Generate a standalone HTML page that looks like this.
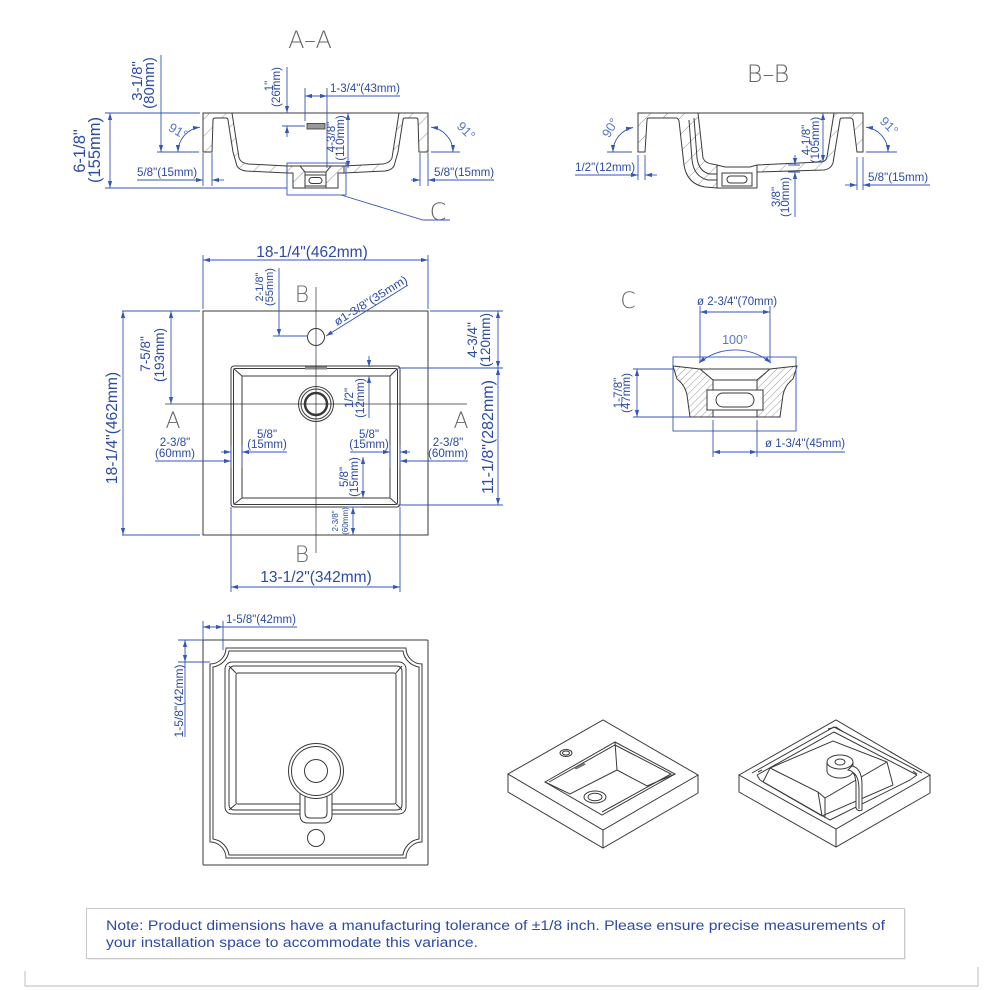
<!DOCTYPE html>
<html><head><meta charset="utf-8"><style>
html,body{margin:0;padding:0;background:#fff}
svg{display:block}
text{font-family:"Liberation Sans",Arial,sans-serif}
.b{stroke:#3556b8;stroke-width:0.9;fill:none}
.t{fill:#2c4aa6}
.k{stroke:#3a3a3a;stroke-width:1;fill:none}
.g{fill:#666;font-family:"DejaVu Sans","Liberation Sans",sans-serif;font-weight:200}
</style></head><body>
<svg xmlns="http://www.w3.org/2000/svg" width="990" height="990" viewBox="0 0 990 990">
<defs>
<marker id="a" viewBox="0 0 10 6" refX="10" refY="3" markerWidth="7" markerHeight="4.2" markerUnits="userSpaceOnUse" orient="auto-start-reverse"><path d="M0,0L10,3L0,6z" fill="#3556b8"/></marker>
<pattern id="h" width="12" height="12" patternUnits="userSpaceOnUse" patternTransform="rotate(45)"><line x1="0" y1="0" x2="0" y2="12" stroke="#444" stroke-width="0.6"/></pattern>
<pattern id="h2" width="5" height="5" patternUnits="userSpaceOnUse" patternTransform="rotate(45)"><line x1="0" y1="0" x2="0" y2="5" stroke="#444" stroke-width="0.55"/></pattern>
</defs>
<rect width="990" height="990" fill="#fff"/>

<!-- ================= A-A ================= -->
<text x="310" y="48" class="g" font-size="24" text-anchor="middle">A–A</text>
<g class="k">
<path d="M203,113H428"/>
<path fill="url(#h)" d="M203,113H232L239,158Q241,163 248,164L287,166V173L246,171Q239,170 237,166L233,152L228,120Q228,118 226,118H215Q213,118 213,120L212,152H203Z"/>
<path fill="url(#h)" d="M428,113H399L392,158Q390,163 383,164L344,166V173L385,171Q392,170 394,166L398,152L403,120Q403,118 405,118H416Q418,118 418,120L419,152H428Z"/>
<path fill="url(#h)" d="M287,166H300L305,172V188H293V173H287Z"/>
<path fill="url(#h)" d="M344,166H331L326,172V188H338V173H344Z"/>
<path d="M300,166H331M305,172H326M293,188H338"/>
<rect x="305" y="175" width="21" height="11"/>
<rect x="309" y="177.5" width="13" height="6" rx="3"/>
</g>
<rect x="307" y="123.5" width="18" height="5.5" fill="#999" stroke="#333" stroke-width="0.8"/>
<g class="b">
<path d="M161,55V152" marker-end="url(#a)"/>
<path d="M157,152H199"/>
<path d="M105,113H200"/>
<path d="M110,113V188" marker-start="url(#a)" marker-end="url(#a)"/>
<path d="M105,188H287"/>
<path d="M137,180H203" marker-end="url(#a)"/>
<path d="M224,180H212" marker-end="url(#a)"/>
<path d="M203,153V186M212,153V186"/>
<path d="M200,127.2A25,25 0 0 0 178,152" marker-start="url(#a)" marker-end="url(#a)"/>
<path d="M431,127.2A25,25 0 0 1 453,152" marker-start="url(#a)" marker-end="url(#a)"/>
<path d="M431,152H460"/>
<path d="M411,180H420" marker-end="url(#a)"/>
<path d="M494,180H428" marker-end="url(#a)"/>
<path d="M420,153V186M428,153V186"/>
<path d="M287,67V113" marker-end="url(#a)"/>
<path d="M287,137V126" marker-end="url(#a)"/>
<path d="M282,126H305"/>
<path d="M305,88V121M327,88V168"/>
<path d="M305,96H327" marker-start="url(#a)" marker-end="url(#a)"/>
<path d="M327,96H400"/>
<path d="M348,113V168" marker-start="url(#a)" marker-end="url(#a)"/>
<rect x="287" y="163" width="59" height="32"/>
<path d="M341,195L423,220H450"/>
</g>
<g class="t">
<text transform="translate(142,81) rotate(-90)" text-anchor="middle" font-size="15">3-1/8"</text>
<text transform="translate(154,83) rotate(-90)" text-anchor="middle" font-size="15">(80mm)</text>
<text transform="translate(85,151) rotate(-90)" text-anchor="middle" font-size="16.5">6-1/8"</text>
<text transform="translate(100,150) rotate(-90)" text-anchor="middle" font-size="16.5">(155mm)</text>
<text x="137" y="176" font-size="11.6">5/8"(15mm)</text>
<text x="434" y="176" font-size="11.6">5/8"(15mm)</text>
<text transform="translate(273,86) rotate(-90)" text-anchor="middle" font-size="11.6">1"</text>
<text transform="translate(280,87) rotate(-90)" text-anchor="middle" font-size="11.6">(26mm)</text>
<text x="330" y="92" font-size="11.5">1-3/4"(43mm)</text>
<text transform="translate(335,137) rotate(-90)" text-anchor="middle" font-size="11.6">4-3/8"</text>
<text transform="translate(344,138) rotate(-90)" text-anchor="middle" font-size="11.6">(110mm)</text>
<text transform="translate(176,135) rotate(30)" text-anchor="middle" font-size="13" fill="#5a78c8">91°</text>
<text transform="translate(463,134) rotate(45)" text-anchor="middle" font-size="13" fill="#5a78c8">91°</text>
</g>
<text x="438" y="220" class="g" font-size="24" text-anchor="middle">C</text>

<!-- ================= B-B ================= -->
<text x="768" y="82" class="g" font-size="24" text-anchor="middle">B–B</text>
<g class="k">
<path d="M638,113H863"/>
<path fill="url(#h)" d="M638,113H698L703,158Q705,163 712,164L717,165V188L705,187Q687,184 684,165L679,121Q678,118 676,118H649Q647,118 647,120L645,152H638Z"/>
<path d="M689,120L692,160Q694,177 708,180L717,180M694,118L697,158Q699,172 710,174L717,174"/>
<path d="M717,165L725,167H750L757,165M717,188H757M717,165V188M757,165V188"/>
<rect x="722" y="173" width="30" height="13"/>
<rect x="727" y="176" width="20" height="7" rx="3.5"/>
<path fill="url(#h)" d="M757,165L820,162Q826,162 827,157L834,113H863V152H857L853,120Q852,118 850,118H842Q840,118 840,120L833,163Q831,169 824,170L757,172Z"/>
</g>
<g class="b">
<path d="M633,127.5A25,25 0 0 0 613,152" marker-start="url(#a)" marker-end="url(#a)"/>
<path d="M607,152H632"/>
<path d="M575,175H638" marker-end="url(#a)"/>
<path d="M657,175H645" marker-end="url(#a)"/>
<path d="M638,155V180M645,155V180"/>
<path d="M866,127.2A25,25 0 0 1 888,152" marker-start="url(#a)" marker-end="url(#a)"/>
<path d="M866,152H897"/>
<path d="M845,185H857" marker-end="url(#a)"/>
<path d="M930,185H863" marker-end="url(#a)"/>
<path d="M857,157V190M863,157V190"/>
<path d="M823,113V162" marker-start="url(#a)" marker-end="url(#a)"/>
<path d="M795,155V165" marker-end="url(#a)"/>
<path d="M795,217V172" marker-end="url(#a)"/>
<path d="M788,165H800M788,172H800"/>
</g>
<g class="t">
<text transform="translate(614,130) rotate(-60)" text-anchor="middle" font-size="13" fill="#5a78c8">90°</text>
<text x="575" y="171" font-size="11.6">1/2"(12mm)</text>
<text transform="translate(886,129) rotate(45)" text-anchor="middle" font-size="13" fill="#5a78c8">91°</text>
<text x="868" y="181" font-size="11.6">5/8"(15mm)</text>
<text transform="translate(810,140) rotate(-90)" text-anchor="middle" font-size="11.6">4-1/8"</text>
<text transform="translate(819,140) rotate(-90)" text-anchor="middle" font-size="11.6">(105mm)</text>
<text transform="translate(780,197) rotate(-90)" text-anchor="middle" font-size="11.6">3/8"</text>
<text transform="translate(789,197) rotate(-90)" text-anchor="middle" font-size="11.6">(10mm)</text>
</g>

<!-- ================= PLAN ================= -->
<g class="k" stroke-width="1.2">
<rect x="203" y="311" width="225" height="224"/>
<rect x="231" y="366" width="169" height="141" rx="3"/>
<rect x="233.5" y="368.5" width="164" height="136" rx="2"/>
<rect x="242" y="376" width="148" height="122"/>
<path d="M233.5,368.5L242,376M397.5,368.5L390,376M233.5,504.5L242,498M397.5,504.5L390,498" stroke-width="1"/>
<circle cx="316" cy="337" r="8.5"/>
<circle cx="316" cy="404" r="17.5"/>
<circle cx="316" cy="404" r="15"/>
<circle cx="316" cy="404" r="11" stroke-width="2.5"/>
</g>
<rect x="305" y="366.5" width="22" height="3" fill="#888"/>
<g stroke="#333" stroke-width="0.7" fill="none">
<path d="M316,287V553M165,404H467"/>
</g>
<text x="302" y="302" class="g" font-size="22" text-anchor="middle">B</text>
<text x="302" y="562" class="g" font-size="22" text-anchor="middle">B</text>
<text x="173" y="428" class="g" font-size="22" text-anchor="middle">A</text>
<text x="461" y="428" class="g" font-size="22" text-anchor="middle">A</text>
<g class="b">
<path d="M203,260H428" marker-start="url(#a)" marker-end="url(#a)"/>
<path d="M203,255V309M428,255V309"/>
<path d="M279,268V336" marker-end="url(#a)"/>
<path d="M273,336H308"/>
<path d="M408,285L326,336" marker-end="url(#a)"/>
<path d="M171,311V404" marker-start="url(#a)" marker-end="url(#a)"/>
<path d="M122,311H200M122,535H200"/>
<path d="M123,311V535" marker-start="url(#a)" marker-end="url(#a)"/>
<path d="M498,311V368" marker-start="url(#a)" marker-end="url(#a)"/>
<path d="M498,368V505" marker-start="url(#a)" marker-end="url(#a)"/>
<path d="M430,311H503M398,368H503M398,505H503"/>
<path d="M369,356V367" marker-end="url(#a)"/>
<path d="M369,418V376" marker-end="url(#a)"/>
<path d="M242,452H287" marker-start="url(#a)"/>
<path d="M221,452H231" marker-end="url(#a)"/>
<path d="M231,445V468M242,445V468"/>
<path d="M350,452H390" marker-end="url(#a)"/>
<path d="M410,452H400" marker-end="url(#a)"/>
<path d="M390,445V468M400,445V468"/>
<path d="M155,461H231" marker-end="url(#a)"/>
<path d="M468,461H400" marker-end="url(#a)"/>
<path d="M363,457V498" marker-start="url(#a)" marker-end="url(#a)"/>
<path d="M353,507V535" marker-start="url(#a)" marker-end="url(#a)"/>
<path d="M345,507H362"/>
<path d="M231,587H400" marker-start="url(#a)" marker-end="url(#a)"/>
<path d="M231,507V592M400,507V592"/>
</g>
<g class="t">
<text x="312" y="257" font-size="15.5" text-anchor="middle">18-1/4"(462mm)</text>
<text transform="translate(263,287) rotate(-90)" text-anchor="middle" font-size="11">2-1/8"</text>
<text transform="translate(273,287) rotate(-90)" text-anchor="middle" font-size="11">(55mm)</text>
<text transform="translate(337,326) rotate(-32)" font-size="11.3" textLength="84" lengthAdjust="spacingAndGlyphs">ø1-3/8"(35mm)</text>
<text transform="translate(150,354) rotate(-90)" text-anchor="middle" font-size="13.5">7-5/8"</text>
<text transform="translate(164,355) rotate(-90)" text-anchor="middle" font-size="13.5">(193mm)</text>
<text transform="translate(117,428) rotate(-90)" text-anchor="middle" font-size="15.6">18-1/4"(462mm)</text>
<text transform="translate(477,340) rotate(-90)" text-anchor="middle" font-size="13.5">4-3/4"</text>
<text transform="translate(490,340) rotate(-90)" text-anchor="middle" font-size="13.5">(120mm)</text>
<text transform="translate(493,437) rotate(-90)" text-anchor="middle" font-size="16">11-1/8"(282mm)</text>
<text transform="translate(353,398) rotate(-90)" text-anchor="middle" font-size="11.5">1/2"</text>
<text transform="translate(364,398) rotate(-90)" text-anchor="middle" font-size="11.5">(12mm)</text>
<text x="267" y="438" font-size="11.5" text-anchor="middle">5/8"</text>
<text x="267" y="448" font-size="11.5" text-anchor="middle">(15mm)</text>
<text x="369" y="438" font-size="11.5" text-anchor="middle">5/8"</text>
<text x="369" y="448" font-size="11.5" text-anchor="middle">(15mm)</text>
<text x="175" y="446" font-size="11.6" text-anchor="middle">2-3/8"</text>
<text x="175" y="457" font-size="11.6" text-anchor="middle">(60mm)</text>
<text x="448" y="446" font-size="11.6" text-anchor="middle">2-3/8"</text>
<text x="448" y="457" font-size="11.6" text-anchor="middle">(60mm)</text>
<text transform="translate(348,477) rotate(-90)" text-anchor="middle" font-size="11.5">5/8"</text>
<text transform="translate(358,477) rotate(-90)" text-anchor="middle" font-size="11.5">(15mm)</text>
<text transform="translate(338,521) rotate(-90)" text-anchor="middle" font-size="8">2-3/8"</text>
<text transform="translate(348,521) rotate(-90)" text-anchor="middle" font-size="8">(60mm)</text>
<text x="316" y="582" font-size="15.5" text-anchor="middle">13-1/2"(342mm)</text>
</g>

<!-- ================= C DETAIL ================= -->
<text x="628" y="308" class="g" font-size="22" text-anchor="middle">C</text>
<g class="k" stroke-width="0.9">
<path fill="url(#h2)" d="M673,366L700,369L713,380V390H707V410H713V417H690L687,395Q685,385 677,379Z"/>
<path fill="url(#h2)" d="M797,366L770,369L757,380V390H763V410H757V417H780L783,395Q785,385 793,379Z"/>
<path d="M700,369H770M713,380H757M690,417H780"/>
<rect x="707" y="390" width="56" height="20"/>
<rect x="716" y="393" width="38" height="14" rx="7"/>
<path d="M713,410V417M757,410V417M713,380V390M757,380V390"/>
</g>
<g class="b">
<rect x="673" y="357" width="123" height="74"/>
<path d="M700,312H770" marker-start="url(#a)" marker-end="url(#a)"/>
<path d="M700,306V362M770,306V362"/>
<path d="M699,363A56,56 0 0 1 771,363" marker-start="url(#a)" marker-end="url(#a)"/>
<path d="M637,369V417" marker-start="url(#a)" marker-end="url(#a)"/>
<path d="M633,369H673M633,417H690"/>
<path d="M713,452H757" marker-start="url(#a)" marker-end="url(#a)"/>
<path d="M757,452H845"/>
<path d="M713,420V457M757,420V457"/>
</g>
<g class="t">
<text x="697" y="305" font-size="11.5">ø 2-3/4"(70mm)</text>
<text x="735" y="344" font-size="12.5" text-anchor="middle" fill="#5a78c8">100°</text>
<text transform="translate(622,393) rotate(-90)" text-anchor="middle" font-size="11.6">1-7/8"</text>
<text transform="translate(630,393) rotate(-90)" text-anchor="middle" font-size="11.6">(47mm)</text>
<text x="765" y="447" font-size="11.5">ø 1-3/4"(45mm)</text>
</g>

<!-- ================= BOTTOM VIEW ================= -->
<g class="k">
<rect x="203" y="640" width="225" height="225" rx="1"/>
<path d="M226,648H406A16,16 0 0 0 422,664V842A16,16 0 0 0 406,858H226A16,16 0 0 0 210,842V664A16,16 0 0 0 226,648Z"/>
<path d="M229,651H403A19,19 0 0 0 419,667V839A19,19 0 0 0 403,855H229A19,19 0 0 0 213,839V667A19,19 0 0 0 229,651Z"/>
<rect x="225" y="662" width="181" height="152" rx="7"/>
<rect x="229" y="666" width="173" height="144" rx="5"/>
<rect x="236" y="673" width="160" height="131" rx="2"/>
<path d="M229,666L236,673M402,666L396,673M229,810L236,804M402,810L396,804"/>
<path fill="#fff" d="M300,790V815Q300,823 308,823H324Q332,823 332,815V790Z"/>
<path d="M305,796V813Q305,818 310,818H322Q327,818 327,813V796"/>
<circle cx="316" cy="771" r="27.5" fill="#fff"/>
<circle cx="316" cy="771" r="24.5"/>
<circle cx="316" cy="771" r="11.5"/>
<circle cx="316" cy="838" r="8.5"/>
</g>
<g class="b">
<path d="M203,627H223" marker-start="url(#a)" marker-end="url(#a)"/>
<path d="M223,627H297"/>
<path d="M203,621V640M223,621V650"/>
<path d="M185,640V662" marker-start="url(#a)" marker-end="url(#a)"/>
<path d="M185,662V737"/>
<path d="M178,640H203M178,662H210"/>
</g>
<g class="t">
<text x="226" y="623" font-size="11.5">1-5/8"(42mm)</text>
<text transform="translate(183,701) rotate(-90)" text-anchor="middle" font-size="12">1-5/8"(42mm)</text>
</g>

<!-- ================= ISO LEFT ================= -->
<g class="k" stroke-width="0.9">
<path d="M508,774L603,720L698,775L603,830Z"/>
<path d="M508,774V792L603,848L698,793V775M603,830V848"/>
<path d="M545,782L615,742L675,774L602,815Z"/>
<path d="M549,782L615,745L671,774L602,812"/>
<path d="M615,742L617,770M545,782L570,794L617,770L647,786L675,774"/>
<ellipse cx="595" cy="797" rx="11" ry="6"/>
<ellipse cx="595" cy="797" rx="7" ry="3.8"/>
<ellipse cx="566" cy="753" rx="6" ry="3.5"/>
<ellipse cx="566" cy="753" rx="3.5" ry="2"/>
</g>
<path d="M574,768L584,763L586,764.5L576,769.5Z" fill="#777"/>

<!-- ================= ISO RIGHT ================= -->
<g class="k" stroke-width="0.9">
<path d="M739,775L836,720L930,775L836,829Z"/>
<path d="M739,775V792L836,847L930,793V775M836,829V847"/>
<path d="M752,773L834,727L922,773"/>
<path d="M757,775L834,732L917,775"/>
<path d="M757,775L760,780L830,820L910,780L917,775"/>
<path d="M763,782L770,768L833,741L887,762L893,785"/>
<path d="M770,768L818,792L825,798L887,762M825,798V818M763,782L822,816L893,785"/>
<path d="M818,792L822,816"/>
<path fill="#fff" d="M827,762V771A13,7 0 0 0 853,771V762Z"/>
<ellipse cx="840" cy="762" rx="13" ry="7" fill="#fff"/>
<ellipse cx="840" cy="762" rx="5" ry="3"/>
<path fill="#fff" d="M848,770Q856,771 856,785V808Q858,812 862,810V785Q862,768 852,766Z"/>
<path d="M852,772Q859,775 859,790V809"/>
<path d="M758,772L762,770M913,771L917,774M828,729L836,727L842,731"/>
</g>

<!-- ================= NOTE ================= -->
<rect x="88" y="910" width="818" height="50" fill="#eee"/>
<rect x="86.5" y="908.5" width="818" height="50" fill="#fff" stroke="#c9c9c9"/>
<g class="t" font-size="13.5">
<text x="106" y="930" textLength="779" lengthAdjust="spacingAndGlyphs">Note: Product dimensions have a manufacturing tolerance of ±1/8 inch. Please ensure precise measurements of</text>
<text x="106" y="947" textLength="372" lengthAdjust="spacingAndGlyphs">your installation space to accommodate this variance.</text>
</g>
<path d="M25,971V986H978V967" stroke="#c8c8c8" stroke-width="1.2" fill="none"/>
</svg>
</body></html>
